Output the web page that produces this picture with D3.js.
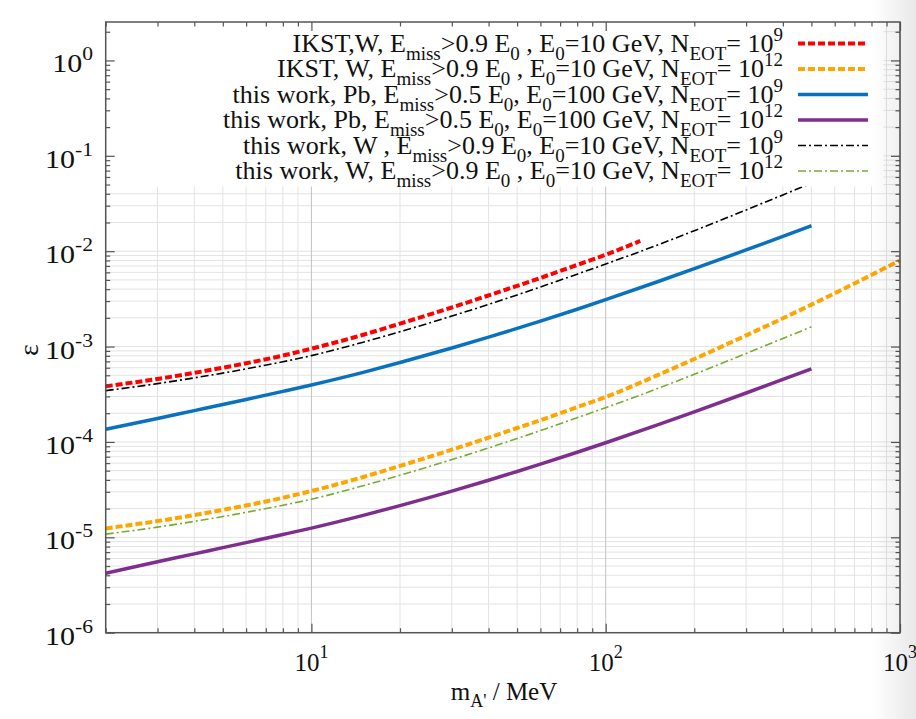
<!DOCTYPE html>
<html><head><meta charset="utf-8">
<script src="https://cdn.jsdelivr.net/npm/d3@7"></script>
<style>
body{margin:0;background:#fff}
svg text{font-family:"Liberation Serif","Times New Roman",serif;fill:#111}
</style>
</head><body>
<svg id="c" width="916" height="719"></svg>
<script>
// ---------- data ----------
const massIKST9 = [2,3,4,5,6,8,10,15,20,30,40,50,60,80,100,131];
const massThisWork = [2,3,4,5,6,8,10,15,20,30,40,50,60,80,100,150,200,300,400,500];
const massIKST12 = [2,3,4,5,6,8,10,15,20,30,40,50,60,80,100,150,200,300,400,500,700,1000];

const epsIKST_W_1e9  = [3.83e-4,4.58e-4,5.3e-4,6.0e-4,6.68e-4,8.05e-4,9.5e-4,1.33e-3,1.74e-3,2.57e-3,3.44e-3,4.33e-3,5.25e-3,7.18e-3,9.18e-3,1.28e-2];
const epsIKST_W_1e12 = [1.24e-5,1.48e-5,1.71e-5,1.94e-5,2.16e-5,2.6e-5,3.06e-5,4.29e-5,5.61e-5,8.29e-5,1.11e-4,1.4e-4,1.69e-4,2.32e-4,2.96e-4,5.01e-4,7.41e-4,1.31e-3,1.98e-3,2.75e-3,4.59e-3,8.0e-3];
const epsPb_1e9      = [1.36e-4,1.76e-4,2.13e-4,2.47e-4,2.79e-4,3.39e-4,3.96e-4,5.37e-4,6.8e-4,9.65e-4,1.255e-3,1.55e-3,1.85e-3,2.46e-3,3.1e-3,4.78e-3,6.55e-3,1.03e-2,1.43e-2,1.85e-2];
const epsPb_1e12     = [4.2e-6,5.55e-6,6.7e-6,7.8e-6,8.8e-6,1.07e-5,1.25e-5,1.7e-5,2.15e-5,3.05e-5,3.97e-5,4.9e-5,5.85e-5,7.8e-5,9.8e-5,1.51e-4,2.07e-4,3.26e-4,4.52e-4,5.85e-4];
const epsW_1e9       = [3.45e-4,4.09e-4,4.7e-4,5.27e-4,5.84e-4,6.93e-4,8.04e-4,1.112e-3,1.432e-3,2.088e-3,2.769e-3,3.478e-3,4.212e-3,5.745e-3,7.34e-3,1.161e-2,1.639e-2,2.709e-2,3.893e-2,5.15e-2];
const epsW_1e12      = [1.08e-5,1.28e-5,1.47e-5,1.65e-5,1.83e-5,2.17e-5,2.51e-5,3.48e-5,4.48e-5,6.53e-5,8.65e-5,1.087e-4,1.316e-4,1.795e-4,2.29e-4,3.63e-4,5.12e-4,8.47e-4,1.217e-3,1.61e-3];

const xTickExps = [1,2,3];
const yTickExps = [0,-1,-2,-3,-4,-5,-6];

// legend labels: segments [text, mode]  mode: "" normal, "sub", "sup"
const legendLabels = [
  [["IKST,W, E",""],["miss","sub"],[">0.9 E",""],["0","sub"],[" , E",""],["0","sub"],["=10 GeV, N",""],["EOT","sub"],["= 10",""],["9","sup"]],
  [["IKST, W, E",""],["miss","sub"],[">0.9 E",""],["0","sub"],[" , E",""],["0","sub"],["=10 GeV, N",""],["EOT","sub"],["= 10",""],["12","sup"]],
  [["this work, Pb, E",""],["miss","sub"],[">0.5 E",""],["0","sub"],[", E",""],["0","sub"],["=100 GeV, N",""],["EOT","sub"],["= 10",""],["9","sup"]],
  [["this work, Pb, E",""],["miss","sub"],[">0.5 E",""],["0","sub"],[", E",""],["0","sub"],["=100 GeV, N",""],["EOT","sub"],["= 10",""],["12","sup"]],
  [["this work, W , E",""],["miss","sub"],[">0.9 E",""],["0","sub"],[", E",""],["0","sub"],["=10 GeV, N",""],["EOT","sub"],["= 10",""],["9","sup"]],
  [["this work, W, E",""],["miss","sub"],[">0.9 E",""],["0","sub"],[" , E",""],["0","sub"],["=10 GeV, N",""],["EOT","sub"],["= 10",""],["12","sup"]]
];

const series = [
  {x: massIKST9,    y: epsIKST_W_1e9,  color:"#ff0000", width:4,   dash:"7,3"},
  {x: massIKST12,   y: epsIKST_W_1e12, color:"#ffa500", width:4,   dash:"7,3"},
  {x: massThisWork, y: epsPb_1e9,      color:"#0a72bd", width:3.5, dash:null},
  {x: massThisWork, y: epsPb_1e12,     color:"#7e2f8e", width:3.5, dash:null},
  {x: massThisWork, y: epsW_1e9,       color:"#000000", width:1.6, dash:"8,3,2,3"},
  {x: massThisWork, y: epsW_1e12,      color:"#77ac30", width:1.6, dash:"8,3,2,3"}
];

// ---------- layout ----------
const L = 105.7, R = 900, T = 22, B = 632.7;
const svg = d3.select("#c");
const x = d3.scaleLog().domain([2,1000]).range([L,R]);
const y = d3.scaleLog().domain([1e-6,2.53]).range([B,T]);

const xMinor = [], yMinor = [];
for (let d=0; d<=3; d++) for (let k=2;k<=9;k++){const v=k*Math.pow(10,d); if (v>=2 && v<=1000) xMinor.push(v);}
for (let d=-6; d<=0; d++) for (let k=2;k<=9;k++){const v=k*Math.pow(10,d); if (v<=2.53) yMinor.push(v);}
const xMajor = xTickExps.map(e=>Math.pow(10,e));
const yMajor = yTickExps.map(e=>Math.pow(10,e));

// grid
const grid = svg.append("g");
grid.selectAll(".gy").data(yMinor.concat(yMajor)).enter().append("line")
  .attr("x1",L).attr("x2",R).attr("y1",d=>y(d)).attr("y2",d=>y(d))
  .attr("stroke","#e3e3e3").attr("stroke-width",1);
grid.selectAll(".gx").data(xMinor).enter().append("line")
  .attr("y1",T).attr("y2",B).attr("x1",d=>x(d)).attr("x2",d=>x(d))
  .attr("stroke","#e3e3e3").attr("stroke-width",1);
grid.selectAll(".gxm").data(xMajor).enter().append("line")
  .attr("y1",T).attr("y2",B).attr("x1",d=>x(d)).attr("x2",d=>x(d))
  .attr("stroke","#c2c2c2").attr("stroke-width",1);

// curves
const line = d3.line().x(d=>x(d[0])).y(d=>y(d[1])).curve(d3.curveMonotoneX);
const curves = svg.append("g");
series.forEach(s=>{
  curves.append("path").datum(s.x.map((v,i)=>[v,s.y[i]]))
    .attr("d",line).attr("fill","none").attr("stroke",s.color)
    .attr("stroke-width",s.width).attr("stroke-dasharray",s.dash)
    .attr("stroke-linejoin","round");
});

// legend (opaque key box)
const key = svg.append("g");
key.append("rect").attr("x",L+0.5).attr("y",T+0.5).attr("width",883-L).attr("height",186-T).attr("fill","#fff");
const rowY = [51.5,77,102.5,128,153.5,179];
legendLabels.forEach((segs,i)=>{
  const t = key.append("text").attr("x",783).attr("y",rowY[i]).attr("text-anchor","end").attr("font-size",26);
  let shift = 0;
  segs.forEach(([txt,mode])=>{
    const target = mode==="sub"? 8 : mode==="sup"? -11 : 0;
    t.append("tspan").attr("dy",target-shift).attr("font-size",mode?19:26).text(txt);
    shift = target;
  });
  const s = series[i];
  key.append("line").attr("x1",798).attr("x2",868).attr("y1",rowY[i]-8).attr("y2",rowY[i]-8)
    .attr("stroke",s.color).attr("stroke-width",s.width).attr("stroke-dasharray",s.dash);
});

// axes with inward ticks
const axCol = "#555";
function styleAxis(g){ g.select(".domain").remove(); g.selectAll(".tick line").attr("stroke",axCol).attr("stroke-width",1.2); g.selectAll(".tick text").remove(); }
svg.append("g").attr("transform",`translate(0,${B})`).call(d3.axisBottom(x).tickValues(xMajor).tickSize(-9).tickFormat("")).call(styleAxis);
svg.append("g").attr("transform",`translate(0,${B})`).call(d3.axisBottom(x).tickValues(xMinor).tickSize(-4.5).tickFormat("")).call(styleAxis);
svg.append("g").attr("transform",`translate(0,${T})`).call(d3.axisTop(x).tickValues(xMajor).tickSize(-9).tickFormat("")).call(styleAxis);
svg.append("g").attr("transform",`translate(0,${T})`).call(d3.axisTop(x).tickValues(xMinor).tickSize(-4.5).tickFormat("")).call(styleAxis);
svg.append("g").attr("transform",`translate(${L},0)`).call(d3.axisLeft(y).tickValues(yMajor).tickSize(-9).tickFormat("")).call(styleAxis);
svg.append("g").attr("transform",`translate(${L},0)`).call(d3.axisLeft(y).tickValues(yMinor).tickSize(-4.5).tickFormat("")).call(styleAxis);
svg.append("g").attr("transform",`translate(${R},0)`).call(d3.axisRight(y).tickValues(yMajor).tickSize(-9).tickFormat("")).call(styleAxis);
svg.append("g").attr("transform",`translate(${R},0)`).call(d3.axisRight(y).tickValues(yMinor).tickSize(-4.5).tickFormat("")).call(styleAxis);

// frame
svg.append("rect").attr("x",L).attr("y",T).attr("width",R-L).attr("height",B-T)
  .attr("fill","none").attr("stroke",axCol).attr("stroke-width",1.5);

// tick labels
xTickExps.forEach(e=>{
  const t = svg.append("text").attr("x",x(Math.pow(10,e))).attr("y",B+38).attr("text-anchor","middle").attr("font-size",25);
  t.append("tspan").text("10");
  t.append("tspan").attr("dy",-13).attr("font-size",18).text(String(e));
});
yTickExps.forEach(e=>{
  const t = svg.append("text").attr("transform",`translate(93,${y(Math.pow(10,e))+12}) scale(1.2,1)`)
    .attr("text-anchor","end").attr("font-size",25);
  t.append("tspan").text("10");
  t.append("tspan").attr("dy",-12).attr("font-size",18).text(String(e));
});

// axis titles
svg.append("text").attr("transform","translate(38,350) rotate(-90)").attr("text-anchor","middle").attr("font-size",28).text("ε");
const xl = svg.append("text").attr("x",504).attr("y",700).attr("text-anchor","middle").attr("font-size",25);
xl.append("tspan").text("m");
xl.append("tspan").attr("dy",7).attr("font-size",18).text("A'");
xl.append("tspan").attr("dy",-7).text(" / MeV");

// viewer shadow at right edge
const defs = svg.append("defs");
const gr = defs.append("linearGradient").attr("id","sh").attr("x1","0").attr("x2","1");
gr.append("stop").attr("offset","0").attr("stop-color","#000").attr("stop-opacity",0);
gr.append("stop").attr("offset","1").attr("stop-color","#000").attr("stop-opacity",0.09);
svg.append("rect").attr("x",872).attr("y",0).attr("width",44).attr("height",719).attr("fill","url(#sh)");
</script>
</body></html>
